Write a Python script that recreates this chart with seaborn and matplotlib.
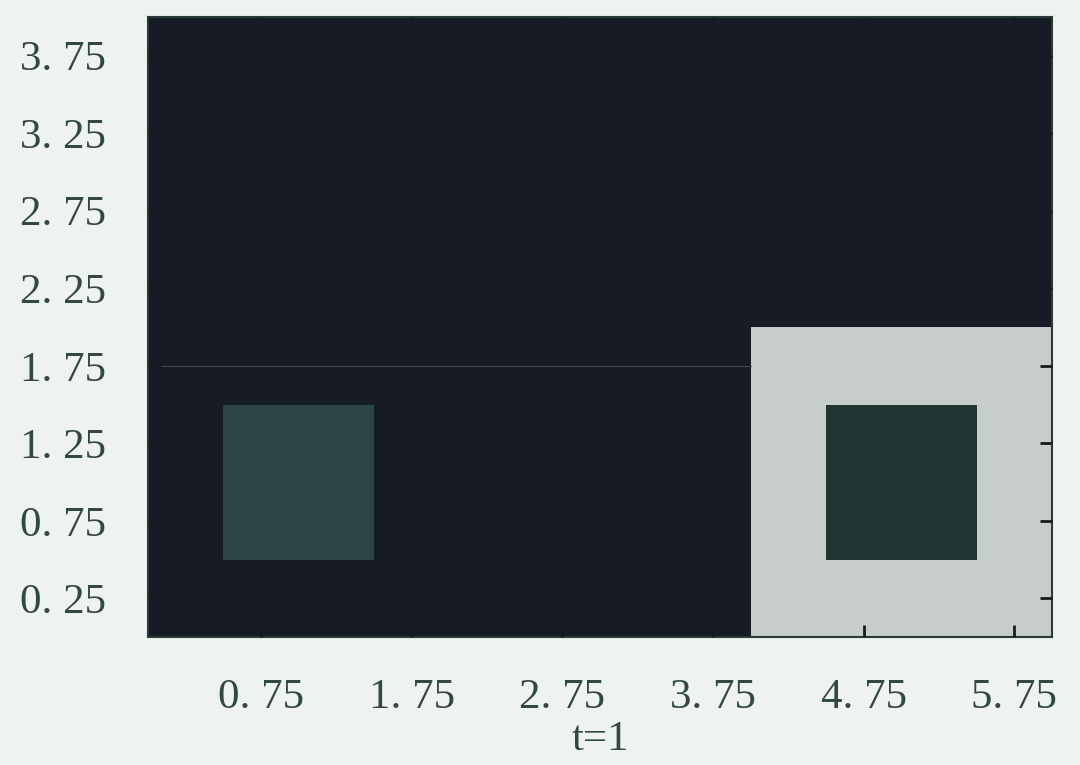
import numpy as np
import pandas as pd
import matplotlib
matplotlib.use("Agg")
import matplotlib.pyplot as plt
import seaborn as sns
from matplotlib.colors import LinearSegmentedColormap

# grid of 0.5 x 0.5 cells, x from 0 to 6, y from 0 to 4 (rows listed bottom -> top)
cell = 0.5
x_edges = np.arange(0, 6.0 + cell, cell)
y_edges = np.arange(0, 4.0 + cell, cell)

# cell values (0 = background, 1 = bright region)
values = [
    [0, 0, 0, 0, 0, 0, 0, 0, 1, 1, 1, 1],
    [0, 0.2, 0.2, 0, 0, 0, 0, 0, 1, 0.1, 0.1, 1],
    [0, 0.2, 0.2, 0, 0, 0, 0, 0, 1, 0.1, 0.1, 1],
    [0, 0, 0, 0, 0, 0, 0, 0, 1, 1, 1, 1],
    [0, 0, 0, 0, 0, 0, 0, 0, 0, 0, 0, 0],
    [0, 0, 0, 0, 0, 0, 0, 0, 0, 0, 0, 0],
    [0, 0, 0, 0, 0, 0, 0, 0, 0, 0, 0, 0],
    [0, 0, 0, 0, 0, 0, 0, 0, 0, 0, 0, 0],
]

x_ticks = [0.75, 1.75, 2.75, 3.75, 4.75, 5.75]
x_tick_labels = ["0. 75", "1. 75", "2. 75", "3. 75", "4. 75", "5. 75"]
y_ticks = [0.25, 0.75, 1.25, 1.75, 2.25, 2.75, 3.25, 3.75]
y_tick_labels = ["0. 25", "0. 75", "1. 25", "1. 75", "2. 25", "2. 75", "3. 25", "3. 75"]
x_label = "t=1"
line_y = 1.75

cmap = LinearSegmentedColormap.from_list(
    "scan", [(0.0, "#161b25"), (0.1, "#223434"), (0.2, "#2e4545"), (1.0, "#c7cdcb")]
)

sns.set_style("white")
plt.rcParams["font.family"] = ["Liberation Serif", "DejaVu Serif"]

text_color = "#33493d"
fig = plt.figure(figsize=(10.8, 7.65), dpi=100, facecolor="#eef3f1")
ax = fig.add_axes([0.137, 0.167, 0.837, 0.811])

df = pd.DataFrame(values, index=y_edges[:-1], columns=x_edges[:-1])
sns.heatmap(df, ax=ax, cmap=cmap, vmin=0, vmax=1, cbar=False,
            xticklabels=False, yticklabels=False, linewidths=0)
ax.invert_yaxis()  # row 0 at the bottom
ax.set_axisbelow(False)  # keep the inward ticks above the cells


def to_cell(v):
    # data coordinate -> heatmap cell coordinate
    return np.asarray(v) / cell


ax.axhline(to_cell(line_y), xmin=0, xmax=4 / 6, color="#3c4c4c", lw=0.8)

ax.set_xticks(to_cell(x_ticks))
ax.set_xticklabels(x_tick_labels)
ax.set_yticks(to_cell(y_ticks))
ax.set_yticklabels(y_tick_labels)
ax.tick_params(axis="both", which="both", direction="in", length=9, width=2,
               color="#161b22", top=True, right=True, bottom=True, left=True,
               labelsize=31, labelcolor=text_color)
ax.tick_params(axis="x", pad=30)
ax.tick_params(axis="y", pad=30)
ax.set_xlabel(x_label, fontsize=31, color=text_color, labelpad=2)

for s in ax.spines.values():
    s.set_visible(True)
    s.set_color("#2a3a36")
    s.set_linewidth(1.5)

fig.savefig("out.png", dpi=100, facecolor=fig.get_facecolor())
